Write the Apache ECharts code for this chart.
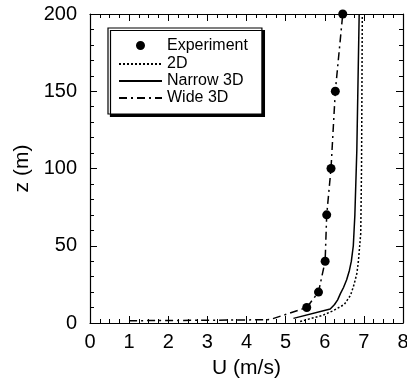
<!DOCTYPE html>
<html>
<head>
<meta charset="utf-8">
<script src="https://cdn.jsdelivr.net/npm/echarts@6/dist/echarts.min.js"></script>
<style>
  html, body { margin: 0; padding: 0; background: #fff; }
</style>
</head>
<body>
<div id="main" style="width: 407px;height:378px;"></div>
<script type="text/javascript">
    // 实验点
    var expU = [5.54, 5.84, 6.01, 6.05, 6.16, 6.27, 6.46];
    var expZ = [10, 20, 40, 70, 100, 150, 200];
    // 2D
    var u2d = [5.37, 5.95, 6.22, 6.50, 6.66, 6.75, 6.82, 6.86, 6.92, 6.94, 6.96];
    var z2d = [1, 5, 8, 12, 18, 25, 32, 40, 58, 100, 200];
    // Narrow 3D
    var uNarrow = [5.20, 6.14, 6.25, 6.33, 6.40, 6.48, 6.56, 6.63, 6.68, 6.73, 6.75, 6.77, 6.82, 6.88];
    var zNarrow = [3, 9, 12, 15, 19, 23, 28, 34, 40, 50, 60, 70, 112, 200];
    // Wide 3D
    var uWide = [1.0, 2.0, 3.0, 4.0, 4.6, 4.94, 5.54, 5.84, 6.01, 6.05, 6.16, 6.27, 6.46];
    var zWide = [1.5, 1.6, 1.8, 2.0, 2.2, 5, 10, 20, 40, 70, 100, 150, 200];

    var xTicks = ['0', '1', '2', '3', '4', '5', '6', '7', '8'];
    var yTicks = ['0', '50', '100', '150', '200'];

    function pairs(u, z) {
        return u.map(function (v, i) { return [v, z[i]]; });
    }

    var font = 'Liberation Sans, Arial, sans-serif';
    var myChart = echarts.init(document.getElementById('main'));

    function frameAxis(extra) {
        var a = {
            axisLine: { show: true, onZero: false, lineStyle: { color: '#000', width: 1.2 } },
            axisTick: { show: true, inside: true, length: 7, lineStyle: { color: '#000', width: 1 } },
            splitLine: { show: false },
            minorSplitLine: { show: false }
        };
        for (var k in extra) a[k] = extra[k];
        return a;
    }
    var hideDot = { opacity: 0 };

    var option = {
        animation: false,
        backgroundColor: '#fff',
        grid: { left: 90, top: 14, width: 313, height: 309, containLabel: false, outerBoundsMode: 'none' },
        legend: {
            orient: 'vertical',
            left: 108,
            top: 28,
            padding: [8, 14, 8, 10],
            itemWidth: 43,
            itemHeight: 14,
            itemGap: 1,
            borderColor: '#000',
            borderWidth: 1.2,
            borderRadius: 0,
            backgroundColor: '#fff',
            shadowColor: '#000',
            shadowBlur: 0.1,
            shadowOffsetX: 2.5,
            shadowOffsetY: 2.5,
            textStyle: { fontFamily: font, fontSize: 16, color: '#000' },
            data: [
                { name: 'Experiment', icon: 'circle',
                  itemStyle: { color: '#000', opacity: 1, borderColor: '#fff', borderWidth: 5 } },
                { name: '2D', itemStyle: hideDot },
                { name: 'Narrow 3D', itemStyle: hideDot },
                { name: 'Wide 3D', itemStyle: hideDot }
            ]
        },
        xAxis: [
            frameAxis({
                type: 'value', position: 'bottom', min: 0, max: 8, interval: 1,
                minorTick: { show: true, splitNumber: 4, length: 4, lineStyle: { color: '#000', width: 1 } },
                name: 'U (m/s)', nameLocation: 'middle', nameGap: 35,
                nameTextStyle: { fontFamily: font, fontSize: 21, color: '#000' },
                axisLabel: {
                    margin: 9, fontFamily: font, fontSize: 20, color: '#000',
                    formatter: function (v) { return xTicks[Math.round(v)]; }
                }
            }),
            frameAxis({
                type: 'value', position: 'top', min: 0, max: 8, interval: 1,
                minorTick: { show: true, splitNumber: 4, length: 4, lineStyle: { color: '#000', width: 1 } },
                axisLabel: { show: false }
            })
        ],
        yAxis: [
            frameAxis({
                type: 'value', position: 'left', min: 0, max: 200, interval: 50,
                minorTick: { show: true, splitNumber: 5, length: 4, lineStyle: { color: '#000', width: 1 } },
                name: 'z (m)', nameLocation: 'middle', nameGap: 53, nameRotate: 90,
                nameTextStyle: { fontFamily: font, fontSize: 21, color: '#000' },
                axisLabel: {
                    margin: 13, fontFamily: font, fontSize: 20, color: '#000',
                    formatter: function (v) { return yTicks[Math.round(v / 50)]; }
                }
            }),
            frameAxis({
                type: 'value', position: 'right', min: 0, max: 200, interval: 50,
                minorTick: { show: true, splitNumber: 5, length: 4, lineStyle: { color: '#000', width: 1 } },
                axisLabel: { show: false }
            })
        ],
        series: [
            {
                name: 'Experiment',
                type: 'scatter',
                symbol: 'circle',
                symbolSize: 9,
                itemStyle: { color: '#000', opacity: 1 },
                data: pairs(expU, expZ),
                z: 5
            },
            {
                name: '2D',
                type: 'line',
                symbol: 'none',
                lineStyle: { color: '#000', width: 1.5, type: [2, 2] },
                itemStyle: { color: '#000' },
                data: pairs(u2d, z2d)
            },
            {
                name: 'Narrow 3D',
                type: 'line',
                symbol: 'none',
                lineStyle: { color: '#000', width: 1.5, type: 'solid' },
                itemStyle: { color: '#000' },
                data: pairs(uNarrow, zNarrow)
            },
            {
                name: 'Wide 3D',
                type: 'line',
                symbol: 'none',
                lineStyle: { color: '#000', width: 1.5, type: [8, 4, 2, 4] },
                itemStyle: { color: '#000' },
                data: pairs(uWide, zWide)
            }
        ]
    };
    myChart.setOption(option);
</script>
</body>
</html>
